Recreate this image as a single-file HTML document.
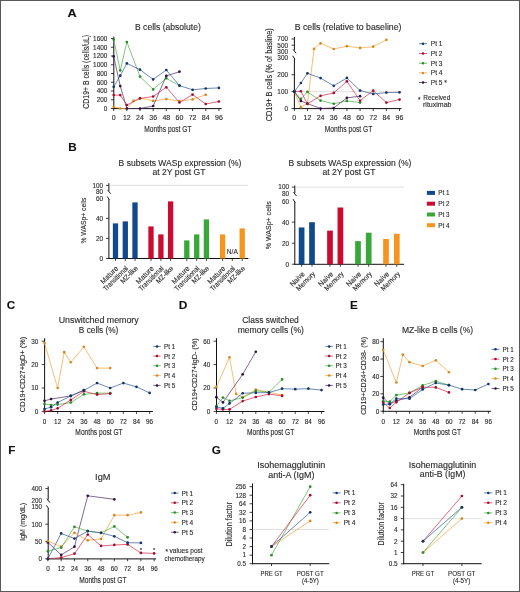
<!DOCTYPE html>
<html><head><meta charset="utf-8"><style>
html,body{margin:0;padding:0;background:#fff;width:520px;height:592px;overflow:hidden}
svg{display:block;will-change:transform}
text{font-family:"Liberation Sans",sans-serif;stroke:#2a2a2a;stroke-width:0.12px}
</style></head><body>
<svg width="520" height="592" viewBox="0 0 520 592" font-family="Liberation Sans, sans-serif" fill="#2a2a2a">
<rect x="0" y="0" width="520" height="592" fill="#fff"/>
<text id="LA" x="67.6" y="16.7" font-size="11.7" textLength="9.2" lengthAdjust="spacingAndGlyphs" font-weight="bold" fill="#111">A</text>
<text id="LB" x="68.2" y="150.9" font-size="11.7" font-weight="bold" fill="#111">B</text>
<text id="LC" x="6.7" y="308.8" font-size="11.7" font-weight="bold" fill="#111">C</text>
<text id="LD" x="178.7" y="308.8" font-size="11.7" textLength="8.6" lengthAdjust="spacingAndGlyphs" font-weight="bold" fill="#111">D</text>
<text id="LE" x="349.9" y="308.9" font-size="11.7" font-weight="bold" fill="#111">E</text>
<text id="LF" x="8.3" y="453.8" font-size="11.7" font-weight="bold" fill="#111">F</text>
<text id="LG" x="211.8" y="454.2" font-size="11.7" font-weight="bold" fill="#111">G</text>
<line x1="113.8" y1="36.6" x2="113.8" y2="109.1" stroke="#111" stroke-width="1"/>
<line x1="113.3" y1="108.6" x2="221.7" y2="108.6" stroke="#111" stroke-width="1"/>
<line x1="110.9" y1="108.5" x2="113.8" y2="108.5" stroke="#111" stroke-width="0.8"/>
<text id="A1y0" x="107.3" y="110.8" font-size="6.4" text-anchor="end">0</text>
<line x1="110.9" y1="99.75" x2="113.8" y2="99.75" stroke="#111" stroke-width="0.8"/>
<text id="A1y1" x="107.3" y="102.05" font-size="6.4" text-anchor="end">200</text>
<line x1="110.9" y1="91" x2="113.8" y2="91" stroke="#111" stroke-width="0.8"/>
<text id="A1y2" x="107.3" y="93.3" font-size="6.4" text-anchor="end">400</text>
<line x1="110.9" y1="82.25" x2="113.8" y2="82.25" stroke="#111" stroke-width="0.8"/>
<text id="A1y3" x="107.3" y="84.55" font-size="6.4" text-anchor="end">600</text>
<line x1="110.9" y1="73.5" x2="113.8" y2="73.5" stroke="#111" stroke-width="0.8"/>
<text id="A1y4" x="107.3" y="75.8" font-size="6.4" text-anchor="end">800</text>
<line x1="110.9" y1="64.75" x2="113.8" y2="64.75" stroke="#111" stroke-width="0.8"/>
<text id="A1y5" x="107.3" y="67.05" font-size="6.4" text-anchor="end">1000</text>
<line x1="110.9" y1="56" x2="113.8" y2="56" stroke="#111" stroke-width="0.8"/>
<text id="A1y6" x="107.3" y="58.3" font-size="6.4" text-anchor="end">1200</text>
<line x1="110.9" y1="47.25" x2="113.8" y2="47.25" stroke="#111" stroke-width="0.8"/>
<text id="A1y7" x="107.3" y="49.55" font-size="6.4" text-anchor="end">1400</text>
<line x1="110.9" y1="38.5" x2="113.8" y2="38.5" stroke="#111" stroke-width="0.8"/>
<text id="A1y8" x="107.3" y="40.8" font-size="6.4" text-anchor="end">1600</text>
<line x1="113.7" y1="108.6" x2="113.7" y2="111" stroke="#111" stroke-width="0.8"/>
<text id="A1x0" x="113.7" y="120.4" font-size="7" text-anchor="middle">0</text>
<line x1="126.85" y1="108.6" x2="126.85" y2="111" stroke="#111" stroke-width="0.8"/>
<text id="A1x1" x="126.85" y="120.4" font-size="7" text-anchor="middle">12</text>
<line x1="140" y1="108.6" x2="140" y2="111" stroke="#111" stroke-width="0.8"/>
<text id="A1x2" x="140" y="120.4" font-size="7" text-anchor="middle">24</text>
<line x1="153.15" y1="108.6" x2="153.15" y2="111" stroke="#111" stroke-width="0.8"/>
<text id="A1x3" x="153.15" y="120.4" font-size="7" text-anchor="middle">36</text>
<line x1="166.3" y1="108.6" x2="166.3" y2="111" stroke="#111" stroke-width="0.8"/>
<text id="A1x4" x="166.3" y="120.4" font-size="7" text-anchor="middle">48</text>
<line x1="179.45" y1="108.6" x2="179.45" y2="111" stroke="#111" stroke-width="0.8"/>
<text id="A1x5" x="179.45" y="120.4" font-size="7" text-anchor="middle">60</text>
<line x1="192.6" y1="108.6" x2="192.6" y2="111" stroke="#111" stroke-width="0.8"/>
<text id="A1x6" x="192.6" y="120.4" font-size="7" text-anchor="middle">72</text>
<line x1="205.75" y1="108.6" x2="205.75" y2="111" stroke="#111" stroke-width="0.8"/>
<text id="A1x7" x="205.75" y="120.4" font-size="7" text-anchor="middle">84</text>
<line x1="218.9" y1="108.6" x2="218.9" y2="111" stroke="#111" stroke-width="0.8"/>
<text id="A1x8" x="218.9" y="120.4" font-size="7" text-anchor="middle">96</text>
<text id="A1m" x="167.9" y="132.4" font-size="8.6" text-anchor="middle" textLength="47.3" lengthAdjust="spacingAndGlyphs">Months post GT</text>
<text id="A1t" x="135" y="30.3" font-size="8.4" textLength="65.8" lengthAdjust="spacingAndGlyphs">B cells (absolute)</text>
<text id="A1l" x="88.9" y="71.8" font-size="8.2" text-anchor="middle" textLength="73.7" lengthAdjust="spacingAndGlyphs" transform="rotate(-90 88.9 71.8)">CD19+ B cells (cells/uL)</text>
<polyline points="113.7,106.75 120.27,108.5 126.85,108.5 133.42,100.89 140,98 153.15,100.89 166.3,99.05 179.45,101.02 192.6,99.4 205.75,94.81" fill="none" stroke="#f5a23a" stroke-width="0.7" stroke-linejoin="round"/>
<circle cx="113.7" cy="106.75" r="1.35" fill="#d58b1f"/>
<circle cx="120.27" cy="108.5" r="1.35" fill="#d58b1f"/>
<circle cx="126.85" cy="108.5" r="1.35" fill="#d58b1f"/>
<circle cx="133.42" cy="100.89" r="1.35" fill="#d58b1f"/>
<circle cx="140" cy="98" r="1.35" fill="#d58b1f"/>
<circle cx="153.15" cy="100.89" r="1.35" fill="#d58b1f"/>
<circle cx="166.3" cy="99.05" r="1.35" fill="#d58b1f"/>
<circle cx="179.45" cy="101.02" r="1.35" fill="#d58b1f"/>
<circle cx="192.6" cy="99.4" r="1.35" fill="#d58b1f"/>
<circle cx="205.75" cy="94.81" r="1.35" fill="#d58b1f"/>
<polyline points="113.7,39.59 120.27,70.44 126.85,42 140,76.56 153.15,89.38 166.3,78.31 179.45,85.62" fill="none" stroke="#47ae42" stroke-width="0.7" stroke-linejoin="round"/>
<circle cx="113.7" cy="39.59" r="1.35" fill="#2e8a2c"/>
<circle cx="120.27" cy="70.44" r="1.35" fill="#2e8a2c"/>
<circle cx="126.85" cy="42" r="1.35" fill="#2e8a2c"/>
<circle cx="140" cy="76.56" r="1.35" fill="#2e8a2c"/>
<circle cx="153.15" cy="89.38" r="1.35" fill="#2e8a2c"/>
<circle cx="166.3" cy="78.31" r="1.35" fill="#2e8a2c"/>
<circle cx="179.45" cy="85.62" r="1.35" fill="#2e8a2c"/>
<polyline points="113.7,56.44 120.27,86.1 126.85,108.5 140,108.5 153.15,106.01 166.3,75.91 179.45,71.71" fill="none" stroke="#4a2a64" stroke-width="0.7" stroke-linejoin="round"/>
<circle cx="113.7" cy="56.44" r="1.35" fill="#2c1240"/>
<circle cx="120.27" cy="86.1" r="1.35" fill="#2c1240"/>
<circle cx="126.85" cy="108.5" r="1.35" fill="#2c1240"/>
<circle cx="140" cy="108.5" r="1.35" fill="#2c1240"/>
<circle cx="153.15" cy="106.01" r="1.35" fill="#2c1240"/>
<circle cx="166.3" cy="75.91" r="1.35" fill="#2c1240"/>
<circle cx="179.45" cy="71.71" r="1.35" fill="#2c1240"/>
<polyline points="113.7,95.11 120.27,95.11 126.85,105.09 140,98.44 153.15,96.51 166.3,87.28 179.45,102.51 192.6,94.59 205.75,103.99 218.9,101.5" fill="none" stroke="#d22645" stroke-width="0.7" stroke-linejoin="round"/>
<circle cx="113.7" cy="95.11" r="1.35" fill="#a0102e"/>
<circle cx="120.27" cy="95.11" r="1.35" fill="#a0102e"/>
<circle cx="126.85" cy="105.09" r="1.35" fill="#a0102e"/>
<circle cx="140" cy="98.44" r="1.35" fill="#a0102e"/>
<circle cx="153.15" cy="96.51" r="1.35" fill="#a0102e"/>
<circle cx="166.3" cy="87.28" r="1.35" fill="#a0102e"/>
<circle cx="179.45" cy="102.51" r="1.35" fill="#a0102e"/>
<circle cx="192.6" cy="94.59" r="1.35" fill="#a0102e"/>
<circle cx="205.75" cy="103.99" r="1.35" fill="#a0102e"/>
<circle cx="218.9" cy="101.5" r="1.35" fill="#a0102e"/>
<polyline points="113.7,86.8 120.27,75.69 126.85,63.44 140,69.69 153.15,79.41 166.3,70 179.45,85.62 192.6,89.82 205.75,88.51 218.9,87.89" fill="none" stroke="#2a5796" stroke-width="0.7" stroke-linejoin="round"/>
<circle cx="113.7" cy="86.8" r="1.35" fill="#143363"/>
<circle cx="120.27" cy="75.69" r="1.35" fill="#143363"/>
<circle cx="126.85" cy="63.44" r="1.35" fill="#143363"/>
<circle cx="140" cy="69.69" r="1.35" fill="#143363"/>
<circle cx="153.15" cy="79.41" r="1.35" fill="#143363"/>
<circle cx="166.3" cy="70" r="1.35" fill="#143363"/>
<circle cx="179.45" cy="85.62" r="1.35" fill="#143363"/>
<circle cx="192.6" cy="89.82" r="1.35" fill="#143363"/>
<circle cx="205.75" cy="88.51" r="1.35" fill="#143363"/>
<circle cx="218.9" cy="87.89" r="1.35" fill="#143363"/>
<line x1="294.4" y1="36.9" x2="294.4" y2="50.3" stroke="#111" stroke-width="1"/>
<line x1="294.4" y1="58.7" x2="294.4" y2="109.1" stroke="#111" stroke-width="1"/>
<path d="M293.3,49.7 L295.9,52.9 M292.9,56.1 L294.7,58.9" stroke="#111" stroke-width="0.95" fill="none" stroke-linecap="round"/>
<line x1="293.9" y1="108.6" x2="401.5" y2="108.6" stroke="#111" stroke-width="1"/>
<line x1="294.4" y1="91.6" x2="401.4" y2="91.6" stroke="#dcc8c8" stroke-width="0.6"/>
<line x1="291.5" y1="108.5" x2="294.4" y2="108.5" stroke="#111" stroke-width="0.8"/>
<text id="A2ay0" x="288" y="110.8" font-size="6.4" text-anchor="end">0</text>
<line x1="291.5" y1="91.6" x2="294.4" y2="91.6" stroke="#111" stroke-width="0.8"/>
<text id="A2ay1" x="288" y="93.9" font-size="6.4" text-anchor="end">100</text>
<line x1="291.5" y1="74.7" x2="294.4" y2="74.7" stroke="#111" stroke-width="0.8"/>
<text id="A2ay2" x="288" y="77" font-size="6.4" text-anchor="end">200</text>
<text id="A2ay3" x="288" y="59.8" font-size="6.4" text-anchor="end">300</text>
<line x1="291.5" y1="39" x2="294.4" y2="39" stroke="#111" stroke-width="0.8"/>
<text id="A2by0" x="288" y="41.3" font-size="6.4" text-anchor="end">700</text>
<line x1="291.5" y1="45.2" x2="294.4" y2="45.2" stroke="#111" stroke-width="0.8"/>
<text id="A2by1" x="288" y="47.5" font-size="6.4" text-anchor="end">500</text>
<text x="288" y="53.6" font-size="6.4" text-anchor="end">300</text>
<line x1="294.3" y1="108.6" x2="294.3" y2="111" stroke="#111" stroke-width="0.8"/>
<text id="A2x0" x="294.3" y="120.4" font-size="7" text-anchor="middle">0</text>
<line x1="307.45" y1="108.6" x2="307.45" y2="111" stroke="#111" stroke-width="0.8"/>
<text id="A2x1" x="307.45" y="120.4" font-size="7" text-anchor="middle">12</text>
<line x1="320.6" y1="108.6" x2="320.6" y2="111" stroke="#111" stroke-width="0.8"/>
<text id="A2x2" x="320.6" y="120.4" font-size="7" text-anchor="middle">24</text>
<line x1="333.75" y1="108.6" x2="333.75" y2="111" stroke="#111" stroke-width="0.8"/>
<text id="A2x3" x="333.75" y="120.4" font-size="7" text-anchor="middle">36</text>
<line x1="346.9" y1="108.6" x2="346.9" y2="111" stroke="#111" stroke-width="0.8"/>
<text id="A2x4" x="346.9" y="120.4" font-size="7" text-anchor="middle">48</text>
<line x1="360.05" y1="108.6" x2="360.05" y2="111" stroke="#111" stroke-width="0.8"/>
<text id="A2x5" x="360.05" y="120.4" font-size="7" text-anchor="middle">60</text>
<line x1="373.2" y1="108.6" x2="373.2" y2="111" stroke="#111" stroke-width="0.8"/>
<text id="A2x6" x="373.2" y="120.4" font-size="7" text-anchor="middle">72</text>
<line x1="386.35" y1="108.6" x2="386.35" y2="111" stroke="#111" stroke-width="0.8"/>
<text id="A2x7" x="386.35" y="120.4" font-size="7" text-anchor="middle">84</text>
<line x1="399.5" y1="108.6" x2="399.5" y2="111" stroke="#111" stroke-width="0.8"/>
<text id="A2x8" x="399.5" y="120.4" font-size="7" text-anchor="middle">96</text>
<text id="A2m" x="348.5" y="132.4" font-size="8.6" text-anchor="middle" textLength="47.5" lengthAdjust="spacingAndGlyphs">Months post GT</text>
<text id="A2t" x="294.7" y="30.3" font-size="8.4" textLength="106.8" lengthAdjust="spacingAndGlyphs">B cells (relative to baseline)</text>
<text id="A2l" x="272.4" y="74.8" font-size="8.2" text-anchor="middle" textLength="93" lengthAdjust="spacingAndGlyphs" transform="rotate(-90 272.4 74.8)">CD19+ B cells (% of basline)</text>
<polyline points="294.3,91.6 300.87,107.15 307.45,103.43 314.02,48.91 320.6,43.3 333.75,49.01 346.9,46.18 360.05,47.89 373.2,46.71 386.35,39.8" fill="none" stroke="#f5a23a" stroke-width="0.7" stroke-linejoin="round"/>
<circle cx="294.3" cy="91.6" r="1.35" fill="#d58b1f"/>
<circle cx="300.87" cy="107.15" r="1.35" fill="#d58b1f"/>
<circle cx="314.02" cy="48.91" r="1.35" fill="#d58b1f"/>
<circle cx="320.6" cy="43.3" r="1.35" fill="#d58b1f"/>
<circle cx="333.75" cy="49.01" r="1.35" fill="#d58b1f"/>
<circle cx="346.9" cy="46.18" r="1.35" fill="#d58b1f"/>
<circle cx="360.05" cy="47.89" r="1.35" fill="#d58b1f"/>
<circle cx="373.2" cy="46.71" r="1.35" fill="#d58b1f"/>
<circle cx="386.35" cy="39.8" r="1.35" fill="#d58b1f"/>
<polyline points="294.3,91.6 300.87,98.87 307.45,91.94 320.6,100.56 333.75,103.77 346.9,100.89 360.05,102.58" fill="none" stroke="#47ae42" stroke-width="0.7" stroke-linejoin="round"/>
<circle cx="294.3" cy="91.6" r="1.35" fill="#2e8a2c"/>
<circle cx="300.87" cy="98.87" r="1.35" fill="#2e8a2c"/>
<circle cx="307.45" cy="91.94" r="1.35" fill="#2e8a2c"/>
<circle cx="320.6" cy="100.56" r="1.35" fill="#2e8a2c"/>
<circle cx="333.75" cy="103.77" r="1.35" fill="#2e8a2c"/>
<circle cx="346.9" cy="100.89" r="1.35" fill="#2e8a2c"/>
<circle cx="360.05" cy="102.58" r="1.35" fill="#2e8a2c"/>
<polyline points="294.3,91.6 300.87,100.89 307.45,103.6 320.6,108.5 333.75,107.99 346.9,97.85 360.05,96.16" fill="none" stroke="#4a2a64" stroke-width="0.7" stroke-linejoin="round"/>
<circle cx="294.3" cy="91.6" r="1.35" fill="#2c1240"/>
<circle cx="300.87" cy="100.89" r="1.35" fill="#2c1240"/>
<circle cx="307.45" cy="103.6" r="1.35" fill="#2c1240"/>
<circle cx="320.6" cy="108.5" r="1.35" fill="#2c1240"/>
<circle cx="333.75" cy="107.99" r="1.35" fill="#2c1240"/>
<circle cx="346.9" cy="97.85" r="1.35" fill="#2c1240"/>
<circle cx="360.05" cy="96.16" r="1.35" fill="#2c1240"/>
<polyline points="294.3,91.6 300.87,91.26 307.45,103.94 320.6,95.83 333.75,92.95 346.9,81.29 360.05,100.73 373.2,90.59 386.35,102.58 399.5,99.54" fill="none" stroke="#d22645" stroke-width="0.7" stroke-linejoin="round"/>
<circle cx="294.3" cy="91.6" r="1.35" fill="#a0102e"/>
<circle cx="300.87" cy="91.26" r="1.35" fill="#a0102e"/>
<circle cx="307.45" cy="103.94" r="1.35" fill="#a0102e"/>
<circle cx="320.6" cy="95.83" r="1.35" fill="#a0102e"/>
<circle cx="333.75" cy="92.95" r="1.35" fill="#a0102e"/>
<circle cx="346.9" cy="81.29" r="1.35" fill="#a0102e"/>
<circle cx="360.05" cy="100.73" r="1.35" fill="#a0102e"/>
<circle cx="373.2" cy="90.59" r="1.35" fill="#a0102e"/>
<circle cx="386.35" cy="102.58" r="1.35" fill="#a0102e"/>
<circle cx="399.5" cy="99.54" r="1.35" fill="#a0102e"/>
<polyline points="294.3,91.6 300.87,82.98 307.45,73.35 320.6,78.08 333.75,85.85 346.9,77.91 360.05,90.59 373.2,93.97 386.35,92.61 399.5,92.28" fill="none" stroke="#2a5796" stroke-width="0.7" stroke-linejoin="round"/>
<circle cx="294.3" cy="91.6" r="1.35" fill="#143363"/>
<circle cx="300.87" cy="82.98" r="1.35" fill="#143363"/>
<circle cx="307.45" cy="73.35" r="1.35" fill="#143363"/>
<circle cx="320.6" cy="78.08" r="1.35" fill="#143363"/>
<circle cx="333.75" cy="85.85" r="1.35" fill="#143363"/>
<circle cx="346.9" cy="77.91" r="1.35" fill="#143363"/>
<circle cx="360.05" cy="90.59" r="1.35" fill="#143363"/>
<circle cx="373.2" cy="93.97" r="1.35" fill="#143363"/>
<circle cx="386.35" cy="92.61" r="1.35" fill="#143363"/>
<circle cx="399.5" cy="92.28" r="1.35" fill="#143363"/>
<line x1="419" y1="43.7" x2="427" y2="43.7" stroke="#2a5796" stroke-width="0.75"/>
<circle cx="423" cy="43.7" r="1.25" fill="#143363"/>
<text id="Ag0" x="430.8" y="46.2" font-size="6.6">Pt 1</text>
<line x1="419" y1="53.5" x2="427" y2="53.5" stroke="#d22645" stroke-width="0.75"/>
<circle cx="423" cy="53.5" r="1.25" fill="#a0102e"/>
<text id="Ag1" x="430.8" y="56" font-size="6.6">Pt 2</text>
<line x1="419" y1="63.2" x2="427" y2="63.2" stroke="#47ae42" stroke-width="0.75"/>
<circle cx="423" cy="63.2" r="1.25" fill="#2e8a2c"/>
<text id="Ag2" x="430.8" y="65.7" font-size="6.6">Pt 3</text>
<line x1="419" y1="72.9" x2="427" y2="72.9" stroke="#f5a23a" stroke-width="0.75"/>
<circle cx="423" cy="72.9" r="1.25" fill="#d58b1f"/>
<text id="Ag3" x="430.8" y="75.4" font-size="6.6">Pt 4</text>
<line x1="419" y1="82.5" x2="427" y2="82.5" stroke="#4a2a64" stroke-width="0.75"/>
<circle cx="423" cy="82.5" r="1.25" fill="#2c1240"/>
<text id="Ag4" x="430.8" y="85" font-size="6.6">Pt 5 *</text>
<text x="418" y="101.6" font-size="6.4">*</text>
<text id="Arec" x="423.3" y="99.9" font-size="6.8" textLength="27" lengthAdjust="spacingAndGlyphs">Received</text>
<text id="Arit" x="423" y="107" font-size="6.8" textLength="28.5" lengthAdjust="spacingAndGlyphs">rituximab</text>
<line x1="108.9" y1="183.2" x2="108.9" y2="190.8" stroke="#111" stroke-width="1"/>
<line x1="108.9" y1="199.4" x2="108.9" y2="259" stroke="#111" stroke-width="1"/>
<path d="M107.8,190.2 L110.4,193.4 M107.4,196.8 L109.2,199.6" stroke="#111" stroke-width="0.95" fill="none" stroke-linecap="round"/>
<line x1="108.4" y1="258.5" x2="248.4" y2="258.5" stroke="#111" stroke-width="1"/>
<line x1="108.9" y1="185.4" x2="248.2" y2="185.4" stroke="#c8c8c8" stroke-width="0.6"/>
<line x1="106" y1="258.4" x2="108.9" y2="258.4" stroke="#111" stroke-width="0.8"/>
<text id="B1ay0" x="103.1" y="260.7" font-size="6.4" text-anchor="end">0</text>
<line x1="106" y1="238.4" x2="108.9" y2="238.4" stroke="#111" stroke-width="0.8"/>
<text id="B1ay1" x="103.1" y="240.7" font-size="6.4" text-anchor="end">20</text>
<line x1="106" y1="218.4" x2="108.9" y2="218.4" stroke="#111" stroke-width="0.8"/>
<text id="B1ay2" x="103.1" y="220.7" font-size="6.4" text-anchor="end">40</text>
<text id="B1ay3" x="103.1" y="200.7" font-size="6.4" text-anchor="end">60</text>
<text id="B1by0" x="103.1" y="194" font-size="6.4" text-anchor="end">80</text>
<line x1="106" y1="185.4" x2="108.9" y2="185.4" stroke="#111" stroke-width="0.8"/>
<text id="B1by1" x="103.1" y="187.7" font-size="6.4" text-anchor="end">100</text>
<text id="B1l" x="85.8" y="220.5" font-size="7.6" text-anchor="middle" textLength="46" lengthAdjust="spacingAndGlyphs" transform="rotate(-90 85.8 220.5)">% WASp+ cells</text>
<text id="B1t1" x="180" y="165.6" font-size="8.4" text-anchor="middle" textLength="122.8" lengthAdjust="spacingAndGlyphs">B subsets WASp expression (%)</text>
<text id="B1t2" x="179" y="174.9" font-size="8.4" text-anchor="middle" textLength="53" lengthAdjust="spacingAndGlyphs">at 2Y post GT</text>
<line x1="115.5" y1="258.5" x2="115.5" y2="260.9" stroke="#111" stroke-width="0.8"/>
<rect x="112.85" y="223.4" width="5.3" height="35.1" fill="#11498a"/>
<line x1="125.3" y1="258.5" x2="125.3" y2="260.9" stroke="#111" stroke-width="0.8"/>
<rect x="122.65" y="221.4" width="5.3" height="37.1" fill="#11498a"/>
<line x1="135" y1="258.5" x2="135" y2="260.9" stroke="#111" stroke-width="0.8"/>
<rect x="132.35" y="202.4" width="5.3" height="56.1" fill="#11498a"/>
<line x1="151" y1="258.5" x2="151" y2="260.9" stroke="#111" stroke-width="0.8"/>
<rect x="148.35" y="226.4" width="5.3" height="32.1" fill="#cc0b30"/>
<line x1="160.9" y1="258.5" x2="160.9" y2="260.9" stroke="#111" stroke-width="0.8"/>
<rect x="158.25" y="234.4" width="5.3" height="24.1" fill="#cc0b30"/>
<line x1="170.6" y1="258.5" x2="170.6" y2="260.9" stroke="#111" stroke-width="0.8"/>
<rect x="167.95" y="201.4" width="5.3" height="57.1" fill="#cc0b30"/>
<line x1="186.8" y1="258.5" x2="186.8" y2="260.9" stroke="#111" stroke-width="0.8"/>
<rect x="184.15" y="240.4" width="5.3" height="18.1" fill="#38a838"/>
<line x1="196.7" y1="258.5" x2="196.7" y2="260.9" stroke="#111" stroke-width="0.8"/>
<rect x="194.05" y="234.4" width="5.3" height="24.1" fill="#38a838"/>
<line x1="206.4" y1="258.5" x2="206.4" y2="260.9" stroke="#111" stroke-width="0.8"/>
<rect x="203.75" y="219.4" width="5.3" height="39.1" fill="#38a838"/>
<line x1="222.6" y1="258.5" x2="222.6" y2="260.9" stroke="#111" stroke-width="0.8"/>
<rect x="219.95" y="234.4" width="5.3" height="24.1" fill="#f7941d"/>
<line x1="232.3" y1="258.5" x2="232.3" y2="260.9" stroke="#111" stroke-width="0.8"/>
<line x1="242.2" y1="258.5" x2="242.2" y2="260.9" stroke="#111" stroke-width="0.8"/>
<rect x="239.55" y="228.4" width="5.3" height="30.1" fill="#f7941d"/>
<text id="NA" x="232.3" y="253.7" font-size="6.6" text-anchor="middle">N/A</text>
<text id="bl0" x="118.8" y="268.9" font-size="7.2" text-anchor="end" textLength="22" lengthAdjust="spacingAndGlyphs" transform="rotate(-45 118.8 268.9)">Mature</text>
<text id="bl1" x="128.6" y="268.9" font-size="7.2" text-anchor="end" textLength="32" lengthAdjust="spacingAndGlyphs" transform="rotate(-45 128.6 268.9)">Transitional</text>
<text id="bl2" x="138.3" y="268.9" font-size="7.2" text-anchor="end" textLength="21.4" lengthAdjust="spacingAndGlyphs" transform="rotate(-45 138.3 268.9)">MZ-like</text>
<text id="bl3" x="154.3" y="268.9" font-size="7.2" text-anchor="end" textLength="22" lengthAdjust="spacingAndGlyphs" transform="rotate(-45 154.3 268.9)">Mature</text>
<text id="bl4" x="164.2" y="268.9" font-size="7.2" text-anchor="end" textLength="32" lengthAdjust="spacingAndGlyphs" transform="rotate(-45 164.2 268.9)">Transitional</text>
<text id="bl5" x="173.9" y="268.9" font-size="7.2" text-anchor="end" textLength="21.4" lengthAdjust="spacingAndGlyphs" transform="rotate(-45 173.9 268.9)">MZ-like</text>
<text id="bl6" x="190.1" y="268.9" font-size="7.2" text-anchor="end" textLength="22" lengthAdjust="spacingAndGlyphs" transform="rotate(-45 190.1 268.9)">Mature</text>
<text id="bl7" x="200" y="268.9" font-size="7.2" text-anchor="end" textLength="32" lengthAdjust="spacingAndGlyphs" transform="rotate(-45 200 268.9)">Transitional</text>
<text id="bl8" x="209.7" y="268.9" font-size="7.2" text-anchor="end" textLength="21.4" lengthAdjust="spacingAndGlyphs" transform="rotate(-45 209.7 268.9)">MZ-like</text>
<text id="bl9" x="225.9" y="268.9" font-size="7.2" text-anchor="end" textLength="22" lengthAdjust="spacingAndGlyphs" transform="rotate(-45 225.9 268.9)">Mature</text>
<text id="bl10" x="235.6" y="268.9" font-size="7.2" text-anchor="end" textLength="32" lengthAdjust="spacingAndGlyphs" transform="rotate(-45 235.6 268.9)">Transitional</text>
<text id="bl11" x="245.5" y="268.9" font-size="7.2" text-anchor="end" textLength="21.4" lengthAdjust="spacingAndGlyphs" transform="rotate(-45 245.5 268.9)">MZ-like</text>
<line x1="294.8" y1="185.5" x2="294.8" y2="193.2" stroke="#111" stroke-width="1"/>
<line x1="294.8" y1="202.1" x2="294.8" y2="264.8" stroke="#111" stroke-width="1"/>
<path d="M293.7,192.6 L296.3,195.8 M293.3,199.5 L295.1,202.3" stroke="#111" stroke-width="0.95" fill="none" stroke-linecap="round"/>
<line x1="294.3" y1="264.3" x2="404.1" y2="264.3" stroke="#111" stroke-width="1"/>
<line x1="294.8" y1="187.1" x2="404.3" y2="187.1" stroke="#c8c8c8" stroke-width="0.6"/>
<line x1="291.9" y1="264.2" x2="294.8" y2="264.2" stroke="#111" stroke-width="0.8"/>
<text id="B2ay0" x="289" y="266.5" font-size="6.4" text-anchor="end">0</text>
<line x1="291.9" y1="243.2" x2="294.8" y2="243.2" stroke="#111" stroke-width="0.8"/>
<text id="B2ay1" x="289" y="245.5" font-size="6.4" text-anchor="end">20</text>
<line x1="291.9" y1="222.2" x2="294.8" y2="222.2" stroke="#111" stroke-width="0.8"/>
<text id="B2ay2" x="289" y="224.5" font-size="6.4" text-anchor="end">40</text>
<text id="B2ay3" x="289" y="203.5" font-size="6.4" text-anchor="end">60</text>
<text id="B2by0" x="289" y="196.3" font-size="6.4" text-anchor="end">80</text>
<line x1="291.9" y1="187.1" x2="294.8" y2="187.1" stroke="#111" stroke-width="0.8"/>
<text id="B2by1" x="289" y="189.4" font-size="6.4" text-anchor="end">100</text>
<text id="B2l" x="270.9" y="225.3" font-size="7.6" text-anchor="middle" textLength="48" lengthAdjust="spacingAndGlyphs" transform="rotate(-90 270.9 225.3)">% WASp+ cells</text>
<text id="B2t1" x="350" y="166.2" font-size="8.4" text-anchor="middle" textLength="122.8" lengthAdjust="spacingAndGlyphs">B subsets WASp expression (%)</text>
<text id="B2t2" x="349" y="175" font-size="8.4" text-anchor="middle" textLength="53" lengthAdjust="spacingAndGlyphs">at 2Y post GT</text>
<line x1="301.6" y1="264.3" x2="301.6" y2="266.7" stroke="#111" stroke-width="0.8"/>
<rect x="298.75" y="227.45" width="5.7" height="36.85" fill="#11498a"/>
<line x1="312" y1="264.3" x2="312" y2="266.7" stroke="#111" stroke-width="0.8"/>
<rect x="309.15" y="222.2" width="5.7" height="42.1" fill="#11498a"/>
<line x1="330" y1="264.3" x2="330" y2="266.7" stroke="#111" stroke-width="0.8"/>
<rect x="327.15" y="230.6" width="5.7" height="33.7" fill="#cc0b30"/>
<line x1="340.4" y1="264.3" x2="340.4" y2="266.7" stroke="#111" stroke-width="0.8"/>
<rect x="337.55" y="207.5" width="5.7" height="56.8" fill="#cc0b30"/>
<line x1="358" y1="264.3" x2="358" y2="266.7" stroke="#111" stroke-width="0.8"/>
<rect x="355.15" y="241.1" width="5.7" height="23.2" fill="#38a838"/>
<line x1="368.7" y1="264.3" x2="368.7" y2="266.7" stroke="#111" stroke-width="0.8"/>
<rect x="365.85" y="232.7" width="5.7" height="31.6" fill="#38a838"/>
<line x1="386" y1="264.3" x2="386" y2="266.7" stroke="#111" stroke-width="0.8"/>
<rect x="383.15" y="239" width="5.7" height="25.3" fill="#f7941d"/>
<line x1="396.8" y1="264.3" x2="396.8" y2="266.7" stroke="#111" stroke-width="0.8"/>
<rect x="393.95" y="233.75" width="5.7" height="30.55" fill="#f7941d"/>
<text id="bm0" x="305.3" y="274.4" font-size="7.2" text-anchor="end" textLength="17.8" lengthAdjust="spacingAndGlyphs" transform="rotate(-45 305.3 274.4)">Naive</text>
<text id="bm1" x="315.7" y="274.4" font-size="7.2" text-anchor="end" textLength="24" lengthAdjust="spacingAndGlyphs" transform="rotate(-45 315.7 274.4)">Memory</text>
<text id="bm2" x="333.7" y="274.4" font-size="7.2" text-anchor="end" textLength="17.8" lengthAdjust="spacingAndGlyphs" transform="rotate(-45 333.7 274.4)">Naive</text>
<text id="bm3" x="344.1" y="274.4" font-size="7.2" text-anchor="end" textLength="24" lengthAdjust="spacingAndGlyphs" transform="rotate(-45 344.1 274.4)">Memory</text>
<text id="bm4" x="361.7" y="274.4" font-size="7.2" text-anchor="end" textLength="17.8" lengthAdjust="spacingAndGlyphs" transform="rotate(-45 361.7 274.4)">Naive</text>
<text id="bm5" x="372.4" y="274.4" font-size="7.2" text-anchor="end" textLength="24" lengthAdjust="spacingAndGlyphs" transform="rotate(-45 372.4 274.4)">Memory</text>
<text id="bm6" x="389.7" y="274.4" font-size="7.2" text-anchor="end" textLength="17.8" lengthAdjust="spacingAndGlyphs" transform="rotate(-45 389.7 274.4)">Naive</text>
<text id="bm7" x="400.5" y="274.4" font-size="7.2" text-anchor="end" textLength="24" lengthAdjust="spacingAndGlyphs" transform="rotate(-45 400.5 274.4)">Memory</text>
<rect x="426.9" y="190.9" width="8.1" height="4" fill="#11498a"/>
<text id="Bg0" x="438.2" y="195.2" font-size="6.3">Pt 1</text>
<rect x="426.9" y="201.7" width="8.1" height="4" fill="#cc0b30"/>
<text id="Bg1" x="438.2" y="206" font-size="6.3">Pt 2</text>
<rect x="426.9" y="212.5" width="8.1" height="4" fill="#38a838"/>
<text id="Bg2" x="438.2" y="216.8" font-size="6.3">Pt 3</text>
<rect x="426.9" y="223.2" width="8.1" height="4" fill="#f7941d"/>
<text id="Bg3" x="438.2" y="227.5" font-size="6.3">Pt 4</text>
<line x1="44.6" y1="338.2" x2="44.6" y2="412" stroke="#111" stroke-width="1"/>
<line x1="44.1" y1="411.5" x2="152.9" y2="411.5" stroke="#111" stroke-width="1"/>
<line x1="41.7" y1="411.4" x2="44.6" y2="411.4" stroke="#111" stroke-width="0.8"/>
<text id="Cy0" x="38.4" y="413.7" font-size="6.4" text-anchor="end">0</text>
<line x1="41.7" y1="388" x2="44.6" y2="388" stroke="#111" stroke-width="0.8"/>
<text id="Cy1" x="38.4" y="390.3" font-size="6.4" text-anchor="end">10</text>
<line x1="41.7" y1="364.6" x2="44.6" y2="364.6" stroke="#111" stroke-width="0.8"/>
<text id="Cy2" x="38.4" y="366.9" font-size="6.4" text-anchor="end">20</text>
<line x1="41.7" y1="341.2" x2="44.6" y2="341.2" stroke="#111" stroke-width="0.8"/>
<text id="Cy3" x="38.4" y="343.5" font-size="6.4" text-anchor="end">30</text>
<line x1="44.5" y1="411.5" x2="44.5" y2="413.9" stroke="#111" stroke-width="0.8"/>
<text id="Cx0" x="44.5" y="424" font-size="6.4" text-anchor="middle">0</text>
<line x1="57.64" y1="411.5" x2="57.64" y2="413.9" stroke="#111" stroke-width="0.8"/>
<text id="Cx1" x="57.64" y="424" font-size="6.4" text-anchor="middle">12</text>
<line x1="70.78" y1="411.5" x2="70.78" y2="413.9" stroke="#111" stroke-width="0.8"/>
<text id="Cx2" x="70.78" y="424" font-size="6.4" text-anchor="middle">24</text>
<line x1="83.92" y1="411.5" x2="83.92" y2="413.9" stroke="#111" stroke-width="0.8"/>
<text id="Cx3" x="83.92" y="424" font-size="6.4" text-anchor="middle">36</text>
<line x1="97.06" y1="411.5" x2="97.06" y2="413.9" stroke="#111" stroke-width="0.8"/>
<text id="Cx4" x="97.06" y="424" font-size="6.4" text-anchor="middle">48</text>
<line x1="110.2" y1="411.5" x2="110.2" y2="413.9" stroke="#111" stroke-width="0.8"/>
<text id="Cx5" x="110.2" y="424" font-size="6.4" text-anchor="middle">60</text>
<line x1="123.34" y1="411.5" x2="123.34" y2="413.9" stroke="#111" stroke-width="0.8"/>
<text id="Cx6" x="123.34" y="424" font-size="6.4" text-anchor="middle">72</text>
<line x1="136.48" y1="411.5" x2="136.48" y2="413.9" stroke="#111" stroke-width="0.8"/>
<text id="Cx7" x="136.48" y="424" font-size="6.4" text-anchor="middle">84</text>
<line x1="149.62" y1="411.5" x2="149.62" y2="413.9" stroke="#111" stroke-width="0.8"/>
<text id="Cx8" x="149.62" y="424" font-size="6.4" text-anchor="middle">96</text>
<text id="Cm" x="99" y="435.2" font-size="8.4" text-anchor="middle" textLength="47.3" lengthAdjust="spacingAndGlyphs">Months post GT</text>
<text id="Ct1" x="98.7" y="323.2" font-size="8.4" text-anchor="middle" textLength="80" lengthAdjust="spacingAndGlyphs">Unswitched memory</text>
<text id="Ct2" x="98.6" y="333.2" font-size="8.4" text-anchor="middle" textLength="39.5" lengthAdjust="spacingAndGlyphs">B cells (%)</text>
<text id="Cl" x="25.4" y="374.5" font-size="7.8" text-anchor="middle" textLength="75.3" lengthAdjust="spacingAndGlyphs" transform="rotate(-90 25.4 374.5)">CD19+CD27+IgD+ (%)</text>
<polyline points="44.5,343.07 57.64,388 64.21,352.2 70.78,362.26 83.92,346.82 97.06,368.11 110.2,368.11" fill="none" stroke="#f5a23a" stroke-width="0.7" stroke-linejoin="round"/>
<circle cx="44.5" cy="343.07" r="1.35" fill="#d58b1f"/>
<circle cx="57.64" cy="388" r="1.35" fill="#d58b1f"/>
<circle cx="64.21" cy="352.2" r="1.35" fill="#d58b1f"/>
<circle cx="70.78" cy="362.26" r="1.35" fill="#d58b1f"/>
<circle cx="83.92" cy="346.82" r="1.35" fill="#d58b1f"/>
<circle cx="97.06" cy="368.11" r="1.35" fill="#d58b1f"/>
<circle cx="110.2" cy="368.11" r="1.35" fill="#d58b1f"/>
<polyline points="44.5,400.87 51.07,399 70.78,395.96 83.92,390.11" fill="none" stroke="#4a2a64" stroke-width="0.7" stroke-linejoin="round"/>
<circle cx="44.5" cy="400.87" r="1.35" fill="#2c1240"/>
<circle cx="51.07" cy="399" r="1.35" fill="#2c1240"/>
<circle cx="70.78" cy="395.96" r="1.35" fill="#2c1240"/>
<circle cx="83.92" cy="390.11" r="1.35" fill="#2c1240"/>
<polyline points="44.5,403.91 51.07,405.08 57.64,404.61 70.78,402.51 83.92,394.32 97.06,393.15 110.2,393.15" fill="none" stroke="#47ae42" stroke-width="0.7" stroke-linejoin="round"/>
<circle cx="44.5" cy="403.91" r="1.35" fill="#2e8a2c"/>
<circle cx="51.07" cy="405.08" r="1.35" fill="#2e8a2c"/>
<circle cx="57.64" cy="404.61" r="1.35" fill="#2e8a2c"/>
<circle cx="70.78" cy="402.51" r="1.35" fill="#2e8a2c"/>
<circle cx="83.92" cy="394.32" r="1.35" fill="#2e8a2c"/>
<circle cx="97.06" cy="393.15" r="1.35" fill="#2e8a2c"/>
<circle cx="110.2" cy="393.15" r="1.35" fill="#2e8a2c"/>
<polyline points="44.5,411.4 51.07,410.46 57.64,408.36 70.78,399.93 83.92,391.28 97.06,394.55 110.2,393.62" fill="none" stroke="#d22645" stroke-width="0.7" stroke-linejoin="round"/>
<circle cx="44.5" cy="411.4" r="1.35" fill="#a0102e"/>
<circle cx="51.07" cy="410.46" r="1.35" fill="#a0102e"/>
<circle cx="57.64" cy="408.36" r="1.35" fill="#a0102e"/>
<circle cx="70.78" cy="399.93" r="1.35" fill="#a0102e"/>
<circle cx="83.92" cy="391.28" r="1.35" fill="#a0102e"/>
<circle cx="97.06" cy="394.55" r="1.35" fill="#a0102e"/>
<circle cx="110.2" cy="393.62" r="1.35" fill="#a0102e"/>
<polyline points="44.5,409.06 51.07,407.19 57.64,402.51 70.78,395.96 83.92,390.34 97.06,383.09 110.2,388 123.34,383.09 136.48,386.83 149.62,392.91" fill="none" stroke="#2a5796" stroke-width="0.7" stroke-linejoin="round"/>
<circle cx="44.5" cy="409.06" r="1.35" fill="#143363"/>
<circle cx="51.07" cy="407.19" r="1.35" fill="#143363"/>
<circle cx="57.64" cy="402.51" r="1.35" fill="#143363"/>
<circle cx="70.78" cy="395.96" r="1.35" fill="#143363"/>
<circle cx="83.92" cy="390.34" r="1.35" fill="#143363"/>
<circle cx="97.06" cy="383.09" r="1.35" fill="#143363"/>
<circle cx="110.2" cy="388" r="1.35" fill="#143363"/>
<circle cx="123.34" cy="383.09" r="1.35" fill="#143363"/>
<circle cx="136.48" cy="386.83" r="1.35" fill="#143363"/>
<circle cx="149.62" cy="392.91" r="1.35" fill="#143363"/>
<line x1="153.3" y1="346.4" x2="160.7" y2="346.4" stroke="#2a5796" stroke-width="0.75"/>
<circle cx="157" cy="346.4" r="1.25" fill="#143363"/>
<text id="Cg0" x="164" y="348.9" font-size="6.3">Pt 1</text>
<line x1="153.3" y1="356.1" x2="160.7" y2="356.1" stroke="#d22645" stroke-width="0.75"/>
<circle cx="157" cy="356.1" r="1.25" fill="#a0102e"/>
<text id="Cg1" x="164" y="358.6" font-size="6.3">Pt 2</text>
<line x1="153.3" y1="365.8" x2="160.7" y2="365.8" stroke="#47ae42" stroke-width="0.75"/>
<circle cx="157" cy="365.8" r="1.25" fill="#2e8a2c"/>
<text id="Cg2" x="164" y="368.3" font-size="6.3">Pt 3</text>
<line x1="153.3" y1="375.6" x2="160.7" y2="375.6" stroke="#f5a23a" stroke-width="0.75"/>
<circle cx="157" cy="375.6" r="1.25" fill="#d58b1f"/>
<text id="Cg3" x="164" y="378.1" font-size="6.3">Pt 4</text>
<line x1="153.3" y1="385.4" x2="160.7" y2="385.4" stroke="#4a2a64" stroke-width="0.75"/>
<circle cx="157" cy="385.4" r="1.25" fill="#2c1240"/>
<text id="Cg4" x="164" y="387.9" font-size="6.3">Pt 5</text>
<line x1="216.5" y1="338.2" x2="216.5" y2="412" stroke="#111" stroke-width="1"/>
<line x1="216" y1="411.5" x2="324.4" y2="411.5" stroke="#111" stroke-width="1"/>
<line x1="213.6" y1="411.4" x2="216.5" y2="411.4" stroke="#111" stroke-width="0.8"/>
<text id="Dy0" x="210.4" y="413.7" font-size="6.4" text-anchor="end">0</text>
<line x1="213.6" y1="388" x2="216.5" y2="388" stroke="#111" stroke-width="0.8"/>
<text id="Dy1" x="210.4" y="390.3" font-size="6.4" text-anchor="end">20</text>
<line x1="213.6" y1="364.6" x2="216.5" y2="364.6" stroke="#111" stroke-width="0.8"/>
<text id="Dy2" x="210.4" y="366.9" font-size="6.4" text-anchor="end">40</text>
<line x1="213.6" y1="341.2" x2="216.5" y2="341.2" stroke="#111" stroke-width="0.8"/>
<text id="Dy3" x="210.4" y="343.5" font-size="6.4" text-anchor="end">60</text>
<line x1="216.4" y1="411.5" x2="216.4" y2="413.9" stroke="#111" stroke-width="0.8"/>
<text id="Dx0" x="216.4" y="424" font-size="6.4" text-anchor="middle">0</text>
<line x1="229.54" y1="411.5" x2="229.54" y2="413.9" stroke="#111" stroke-width="0.8"/>
<text id="Dx1" x="229.54" y="424" font-size="6.4" text-anchor="middle">12</text>
<line x1="242.68" y1="411.5" x2="242.68" y2="413.9" stroke="#111" stroke-width="0.8"/>
<text id="Dx2" x="242.68" y="424" font-size="6.4" text-anchor="middle">24</text>
<line x1="255.82" y1="411.5" x2="255.82" y2="413.9" stroke="#111" stroke-width="0.8"/>
<text id="Dx3" x="255.82" y="424" font-size="6.4" text-anchor="middle">36</text>
<line x1="268.96" y1="411.5" x2="268.96" y2="413.9" stroke="#111" stroke-width="0.8"/>
<text id="Dx4" x="268.96" y="424" font-size="6.4" text-anchor="middle">48</text>
<line x1="282.1" y1="411.5" x2="282.1" y2="413.9" stroke="#111" stroke-width="0.8"/>
<text id="Dx5" x="282.1" y="424" font-size="6.4" text-anchor="middle">60</text>
<line x1="295.24" y1="411.5" x2="295.24" y2="413.9" stroke="#111" stroke-width="0.8"/>
<text id="Dx6" x="295.24" y="424" font-size="6.4" text-anchor="middle">72</text>
<line x1="308.38" y1="411.5" x2="308.38" y2="413.9" stroke="#111" stroke-width="0.8"/>
<text id="Dx7" x="308.38" y="424" font-size="6.4" text-anchor="middle">84</text>
<line x1="321.52" y1="411.5" x2="321.52" y2="413.9" stroke="#111" stroke-width="0.8"/>
<text id="Dx8" x="321.52" y="424" font-size="6.4" text-anchor="middle">96</text>
<text id="Dm" x="270.6" y="435.2" font-size="8.4" text-anchor="middle" textLength="47.3" lengthAdjust="spacingAndGlyphs">Months post GT</text>
<text id="Dt1" x="270.5" y="323.2" font-size="8.4" text-anchor="middle" textLength="56.7" lengthAdjust="spacingAndGlyphs">Class switched</text>
<text id="Dt2" x="270.8" y="333.2" font-size="8.4" text-anchor="middle" textLength="66.3" lengthAdjust="spacingAndGlyphs">memory cells (%)</text>
<text id="Dl" x="196.9" y="374.5" font-size="7.8" text-anchor="middle" textLength="72.2" lengthAdjust="spacingAndGlyphs" transform="rotate(-90 196.9 374.5)">CD19+CD27+IgD- (%)</text>
<polyline points="216.4,386.95 229.54,357.35 236.11,393.85 242.68,397.36 255.82,389.52 268.96,392.33 282.1,395.02" fill="none" stroke="#f5a23a" stroke-width="0.7" stroke-linejoin="round"/>
<circle cx="216.4" cy="386.95" r="1.35" fill="#d58b1f"/>
<circle cx="229.54" cy="357.35" r="1.35" fill="#d58b1f"/>
<circle cx="236.11" cy="393.85" r="1.35" fill="#d58b1f"/>
<circle cx="242.68" cy="397.36" r="1.35" fill="#d58b1f"/>
<circle cx="255.82" cy="389.52" r="1.35" fill="#d58b1f"/>
<circle cx="268.96" cy="392.33" r="1.35" fill="#d58b1f"/>
<circle cx="282.1" cy="395.02" r="1.35" fill="#d58b1f"/>
<polyline points="216.4,397.13 222.97,402.39 242.68,374.31 255.82,351.73" fill="none" stroke="#4a2a64" stroke-width="0.7" stroke-linejoin="round"/>
<circle cx="216.4" cy="397.13" r="1.35" fill="#2c1240"/>
<circle cx="222.97" cy="402.39" r="1.35" fill="#2c1240"/>
<circle cx="242.68" cy="374.31" r="1.35" fill="#2c1240"/>
<circle cx="255.82" cy="351.73" r="1.35" fill="#2c1240"/>
<polyline points="216.4,406.13 222.97,397.48 229.54,400.87 242.68,397.59 255.82,390.81 268.96,392.21 282.1,379.46" fill="none" stroke="#47ae42" stroke-width="0.7" stroke-linejoin="round"/>
<circle cx="216.4" cy="406.13" r="1.35" fill="#2e8a2c"/>
<circle cx="222.97" cy="397.48" r="1.35" fill="#2e8a2c"/>
<circle cx="229.54" cy="400.87" r="1.35" fill="#2e8a2c"/>
<circle cx="242.68" cy="397.59" r="1.35" fill="#2e8a2c"/>
<circle cx="255.82" cy="390.81" r="1.35" fill="#2e8a2c"/>
<circle cx="268.96" cy="392.21" r="1.35" fill="#2e8a2c"/>
<circle cx="282.1" cy="379.46" r="1.35" fill="#2e8a2c"/>
<polyline points="216.4,408.83 222.97,409.41 229.54,409.41 242.68,401.1 255.82,397.01 268.96,394.08 282.1,395.96" fill="none" stroke="#d22645" stroke-width="0.7" stroke-linejoin="round"/>
<circle cx="216.4" cy="408.83" r="1.35" fill="#a0102e"/>
<circle cx="222.97" cy="409.41" r="1.35" fill="#a0102e"/>
<circle cx="229.54" cy="409.41" r="1.35" fill="#a0102e"/>
<circle cx="242.68" cy="401.1" r="1.35" fill="#a0102e"/>
<circle cx="255.82" cy="397.01" r="1.35" fill="#a0102e"/>
<circle cx="268.96" cy="394.08" r="1.35" fill="#a0102e"/>
<circle cx="282.1" cy="395.96" r="1.35" fill="#a0102e"/>
<polyline points="216.4,406.84 222.97,408.36 229.54,403.44 242.68,393.26 255.82,392.8 268.96,392.56 282.1,388.7 295.24,389.17 308.38,388.7 321.52,390.11" fill="none" stroke="#2a5796" stroke-width="0.7" stroke-linejoin="round"/>
<circle cx="216.4" cy="406.84" r="1.35" fill="#143363"/>
<circle cx="222.97" cy="408.36" r="1.35" fill="#143363"/>
<circle cx="229.54" cy="403.44" r="1.35" fill="#143363"/>
<circle cx="242.68" cy="393.26" r="1.35" fill="#143363"/>
<circle cx="255.82" cy="392.8" r="1.35" fill="#143363"/>
<circle cx="268.96" cy="392.56" r="1.35" fill="#143363"/>
<circle cx="282.1" cy="388.7" r="1.35" fill="#143363"/>
<circle cx="295.24" cy="389.17" r="1.35" fill="#143363"/>
<circle cx="308.38" cy="388.7" r="1.35" fill="#143363"/>
<circle cx="321.52" cy="390.11" r="1.35" fill="#143363"/>
<line x1="325.4" y1="346.4" x2="332.8" y2="346.4" stroke="#2a5796" stroke-width="0.75"/>
<circle cx="329.1" cy="346.4" r="1.25" fill="#143363"/>
<text id="Dg0" x="335.6" y="348.9" font-size="6.3">Pt 1</text>
<line x1="325.4" y1="356.1" x2="332.8" y2="356.1" stroke="#d22645" stroke-width="0.75"/>
<circle cx="329.1" cy="356.1" r="1.25" fill="#a0102e"/>
<text id="Dg1" x="335.6" y="358.6" font-size="6.3">Pt 2</text>
<line x1="325.4" y1="365.8" x2="332.8" y2="365.8" stroke="#47ae42" stroke-width="0.75"/>
<circle cx="329.1" cy="365.8" r="1.25" fill="#2e8a2c"/>
<text id="Dg2" x="335.6" y="368.3" font-size="6.3">Pt 3</text>
<line x1="325.4" y1="375.6" x2="332.8" y2="375.6" stroke="#f5a23a" stroke-width="0.75"/>
<circle cx="329.1" cy="375.6" r="1.25" fill="#d58b1f"/>
<text id="Dg3" x="335.6" y="378.1" font-size="6.3">Pt 4</text>
<line x1="325.4" y1="385.4" x2="332.8" y2="385.4" stroke="#4a2a64" stroke-width="0.75"/>
<circle cx="329.1" cy="385.4" r="1.25" fill="#2c1240"/>
<text id="Dg4" x="335.6" y="387.9" font-size="6.3">Pt 5</text>
<line x1="383.3" y1="338.2" x2="383.3" y2="411.8" stroke="#111" stroke-width="1"/>
<line x1="382.8" y1="411.3" x2="491.1" y2="411.3" stroke="#111" stroke-width="1"/>
<line x1="380.4" y1="411.2" x2="383.3" y2="411.2" stroke="#111" stroke-width="0.8"/>
<text id="Ey0" x="379.4" y="413.5" font-size="6.4" text-anchor="end">0</text>
<line x1="380.4" y1="393.82" x2="383.3" y2="393.82" stroke="#111" stroke-width="0.8"/>
<text id="Ey1" x="379.4" y="396.12" font-size="6.4" text-anchor="end">20</text>
<line x1="380.4" y1="376.44" x2="383.3" y2="376.44" stroke="#111" stroke-width="0.8"/>
<text id="Ey2" x="379.4" y="378.74" font-size="6.4" text-anchor="end">40</text>
<line x1="380.4" y1="359.06" x2="383.3" y2="359.06" stroke="#111" stroke-width="0.8"/>
<text id="Ey3" x="379.4" y="361.36" font-size="6.4" text-anchor="end">60</text>
<line x1="380.4" y1="341.68" x2="383.3" y2="341.68" stroke="#111" stroke-width="0.8"/>
<text id="Ey4" x="379.4" y="343.98" font-size="6.4" text-anchor="end">80</text>
<line x1="383.2" y1="411.3" x2="383.2" y2="413.7" stroke="#111" stroke-width="0.8"/>
<text id="Ex0" x="383.2" y="424" font-size="6.4" text-anchor="middle">0</text>
<line x1="396.35" y1="411.3" x2="396.35" y2="413.7" stroke="#111" stroke-width="0.8"/>
<text id="Ex1" x="396.35" y="424" font-size="6.4" text-anchor="middle">12</text>
<line x1="409.5" y1="411.3" x2="409.5" y2="413.7" stroke="#111" stroke-width="0.8"/>
<text id="Ex2" x="409.5" y="424" font-size="6.4" text-anchor="middle">24</text>
<line x1="422.66" y1="411.3" x2="422.66" y2="413.7" stroke="#111" stroke-width="0.8"/>
<text id="Ex3" x="422.66" y="424" font-size="6.4" text-anchor="middle">36</text>
<line x1="435.81" y1="411.3" x2="435.81" y2="413.7" stroke="#111" stroke-width="0.8"/>
<text id="Ex4" x="435.81" y="424" font-size="6.4" text-anchor="middle">48</text>
<line x1="448.96" y1="411.3" x2="448.96" y2="413.7" stroke="#111" stroke-width="0.8"/>
<text id="Ex5" x="448.96" y="424" font-size="6.4" text-anchor="middle">60</text>
<line x1="462.11" y1="411.3" x2="462.11" y2="413.7" stroke="#111" stroke-width="0.8"/>
<text id="Ex6" x="462.11" y="424" font-size="6.4" text-anchor="middle">72</text>
<line x1="475.26" y1="411.3" x2="475.26" y2="413.7" stroke="#111" stroke-width="0.8"/>
<text id="Ex7" x="475.26" y="424" font-size="6.4" text-anchor="middle">84</text>
<line x1="488.42" y1="411.3" x2="488.42" y2="413.7" stroke="#111" stroke-width="0.8"/>
<text id="Ex8" x="488.42" y="424" font-size="6.4" text-anchor="middle">96</text>
<text id="Em" x="437.3" y="435.2" font-size="8.4" text-anchor="middle" textLength="47.3" lengthAdjust="spacingAndGlyphs">Months post GT</text>
<text id="Et" x="437.5" y="333.3" font-size="8.4" text-anchor="middle" textLength="71.2" lengthAdjust="spacingAndGlyphs">MZ-like B cells (%)</text>
<text id="El" x="366.4" y="375.8" font-size="7.8" text-anchor="middle" textLength="78" lengthAdjust="spacingAndGlyphs" transform="rotate(-90 366.4 375.8)">CD19+CD24+CD38- (%)</text>
<polyline points="383.2,350.02 396.35,382.52 402.93,354.71 409.5,362.19 422.66,366.01 435.81,360.28 448.96,372.27" fill="none" stroke="#f5a23a" stroke-width="0.7" stroke-linejoin="round"/>
<circle cx="383.2" cy="350.02" r="1.35" fill="#d58b1f"/>
<circle cx="396.35" cy="382.52" r="1.35" fill="#d58b1f"/>
<circle cx="402.93" cy="354.71" r="1.35" fill="#d58b1f"/>
<circle cx="409.5" cy="362.19" r="1.35" fill="#d58b1f"/>
<circle cx="422.66" cy="366.01" r="1.35" fill="#d58b1f"/>
<circle cx="435.81" cy="360.28" r="1.35" fill="#d58b1f"/>
<circle cx="448.96" cy="372.27" r="1.35" fill="#d58b1f"/>
<polyline points="383.2,397.64 389.78,404.16 396.35,400.77 409.5,397.3 422.66,387.22" fill="none" stroke="#4a2a64" stroke-width="0.7" stroke-linejoin="round"/>
<circle cx="383.2" cy="397.64" r="1.35" fill="#2c1240"/>
<circle cx="389.78" cy="404.16" r="1.35" fill="#2c1240"/>
<circle cx="396.35" cy="400.77" r="1.35" fill="#2c1240"/>
<circle cx="409.5" cy="397.3" r="1.35" fill="#2c1240"/>
<circle cx="422.66" cy="387.22" r="1.35" fill="#2c1240"/>
<polyline points="383.2,401.21 389.78,401.64 396.35,395.12 409.5,392.95 422.66,385.39 435.81,381.22 448.96,385.13" fill="none" stroke="#47ae42" stroke-width="0.7" stroke-linejoin="round"/>
<circle cx="383.2" cy="401.21" r="1.35" fill="#2e8a2c"/>
<circle cx="389.78" cy="401.64" r="1.35" fill="#2e8a2c"/>
<circle cx="396.35" cy="395.12" r="1.35" fill="#2e8a2c"/>
<circle cx="409.5" cy="392.95" r="1.35" fill="#2e8a2c"/>
<circle cx="422.66" cy="385.39" r="1.35" fill="#2e8a2c"/>
<circle cx="435.81" cy="381.22" r="1.35" fill="#2e8a2c"/>
<circle cx="448.96" cy="385.13" r="1.35" fill="#2e8a2c"/>
<polyline points="383.2,402.51 389.78,407.98 396.35,402.16 409.5,392.95 422.66,387.13 435.81,387.39 448.96,392.43" fill="none" stroke="#d22645" stroke-width="0.7" stroke-linejoin="round"/>
<circle cx="383.2" cy="402.51" r="1.35" fill="#a0102e"/>
<circle cx="389.78" cy="407.98" r="1.35" fill="#a0102e"/>
<circle cx="396.35" cy="402.16" r="1.35" fill="#a0102e"/>
<circle cx="409.5" cy="392.95" r="1.35" fill="#a0102e"/>
<circle cx="422.66" cy="387.13" r="1.35" fill="#a0102e"/>
<circle cx="435.81" cy="387.39" r="1.35" fill="#a0102e"/>
<circle cx="448.96" cy="392.43" r="1.35" fill="#a0102e"/>
<polyline points="383.2,404.6 389.78,403.9 396.35,398.69 409.5,398.69 422.66,389.47 435.81,382.96 448.96,385.13 462.11,389.21 475.26,390 488.42,384" fill="none" stroke="#2a5796" stroke-width="0.7" stroke-linejoin="round"/>
<circle cx="383.2" cy="404.6" r="1.35" fill="#143363"/>
<circle cx="389.78" cy="403.9" r="1.35" fill="#143363"/>
<circle cx="396.35" cy="398.69" r="1.35" fill="#143363"/>
<circle cx="409.5" cy="398.69" r="1.35" fill="#143363"/>
<circle cx="422.66" cy="389.47" r="1.35" fill="#143363"/>
<circle cx="435.81" cy="382.96" r="1.35" fill="#143363"/>
<circle cx="448.96" cy="385.13" r="1.35" fill="#143363"/>
<circle cx="462.11" cy="389.21" r="1.35" fill="#143363"/>
<circle cx="475.26" cy="390" r="1.35" fill="#143363"/>
<circle cx="488.42" cy="384" r="1.35" fill="#143363"/>
<line x1="491.6" y1="349.3" x2="499.4" y2="349.3" stroke="#2a5796" stroke-width="0.75"/>
<circle cx="495.5" cy="349.3" r="1.25" fill="#143363"/>
<text id="Eg0" x="502.5" y="351.8" font-size="6.3">Pt 1</text>
<line x1="491.6" y1="359.1" x2="499.4" y2="359.1" stroke="#d22645" stroke-width="0.75"/>
<circle cx="495.5" cy="359.1" r="1.25" fill="#a0102e"/>
<text id="Eg1" x="502.5" y="361.6" font-size="6.3">Pt 2</text>
<line x1="491.6" y1="368.8" x2="499.4" y2="368.8" stroke="#47ae42" stroke-width="0.75"/>
<circle cx="495.5" cy="368.8" r="1.25" fill="#2e8a2c"/>
<text id="Eg2" x="502.5" y="371.3" font-size="6.3">Pt 3</text>
<line x1="491.6" y1="378.6" x2="499.4" y2="378.6" stroke="#f5a23a" stroke-width="0.75"/>
<circle cx="495.5" cy="378.6" r="1.25" fill="#d58b1f"/>
<text id="Eg3" x="502.5" y="381.1" font-size="6.3">Pt 4</text>
<line x1="491.6" y1="388.5" x2="499.4" y2="388.5" stroke="#4a2a64" stroke-width="0.75"/>
<circle cx="495.5" cy="388.5" r="1.25" fill="#2c1240"/>
<text id="Eg4" x="502.5" y="391" font-size="6.3">Pt 5</text>
<line x1="48.2" y1="486.3" x2="48.2" y2="499.7" stroke="#111" stroke-width="1"/>
<line x1="48.2" y1="508.3" x2="48.2" y2="559.4" stroke="#111" stroke-width="1"/>
<path d="M47.1,499.1 L49.7,502.3 M46.7,505.7 L48.5,508.5" stroke="#111" stroke-width="0.95" fill="none" stroke-linecap="round"/>
<line x1="47.7" y1="558.9" x2="156.1" y2="558.9" stroke="#111" stroke-width="1"/>
<line x1="45.3" y1="558.8" x2="48.2" y2="558.8" stroke="#111" stroke-width="0.8"/>
<text id="Fay0" x="42.1" y="561.1" font-size="6.3" text-anchor="end">0</text>
<line x1="45.3" y1="541.5" x2="48.2" y2="541.5" stroke="#111" stroke-width="0.8"/>
<text id="Fay1" x="42.1" y="543.8" font-size="6.3" text-anchor="end">50</text>
<line x1="45.3" y1="524.2" x2="48.2" y2="524.2" stroke="#111" stroke-width="0.8"/>
<text id="Fay2" x="42.1" y="526.5" font-size="6.3" text-anchor="end">100</text>
<text id="Fay3" x="42.1" y="509.2" font-size="6.3" text-anchor="end">150</text>
<text id="Fby0" x="42.1" y="503.2" font-size="6.3" text-anchor="end">200</text>
<line x1="45.3" y1="488.6" x2="48.2" y2="488.6" stroke="#111" stroke-width="0.8"/>
<text id="Fby1" x="42.1" y="490.9" font-size="6.3" text-anchor="end">400</text>
<line x1="47.9" y1="558.9" x2="47.9" y2="561.3" stroke="#111" stroke-width="0.8"/>
<text id="Fx0" x="47.9" y="570.8" font-size="6.3" text-anchor="middle">0</text>
<line x1="61.18" y1="558.9" x2="61.18" y2="561.3" stroke="#111" stroke-width="0.8"/>
<text id="Fx1" x="61.18" y="570.8" font-size="6.3" text-anchor="middle">12</text>
<line x1="74.47" y1="558.9" x2="74.47" y2="561.3" stroke="#111" stroke-width="0.8"/>
<text id="Fx2" x="74.47" y="570.8" font-size="6.3" text-anchor="middle">24</text>
<line x1="87.75" y1="558.9" x2="87.75" y2="561.3" stroke="#111" stroke-width="0.8"/>
<text id="Fx3" x="87.75" y="570.8" font-size="6.3" text-anchor="middle">36</text>
<line x1="101.04" y1="558.9" x2="101.04" y2="561.3" stroke="#111" stroke-width="0.8"/>
<text id="Fx4" x="101.04" y="570.8" font-size="6.3" text-anchor="middle">48</text>
<line x1="114.32" y1="558.9" x2="114.32" y2="561.3" stroke="#111" stroke-width="0.8"/>
<text id="Fx5" x="114.32" y="570.8" font-size="6.3" text-anchor="middle">60</text>
<line x1="127.6" y1="558.9" x2="127.6" y2="561.3" stroke="#111" stroke-width="0.8"/>
<text id="Fx6" x="127.6" y="570.8" font-size="6.3" text-anchor="middle">72</text>
<line x1="140.89" y1="558.9" x2="140.89" y2="561.3" stroke="#111" stroke-width="0.8"/>
<text id="Fx7" x="140.89" y="570.8" font-size="6.3" text-anchor="middle">84</text>
<line x1="154.17" y1="558.9" x2="154.17" y2="561.3" stroke="#111" stroke-width="0.8"/>
<text id="Fx8" x="154.17" y="570.8" font-size="6.3" text-anchor="middle">96</text>
<text id="Fm" x="102.8" y="582.6" font-size="8.4" text-anchor="middle" textLength="47.3" lengthAdjust="spacingAndGlyphs">Months post GT</text>
<text id="Ft" x="102.8" y="480.3" font-size="8.6" text-anchor="middle" textLength="15.4" lengthAdjust="spacingAndGlyphs">IgM</text>
<text id="Fl" x="25.5" y="521.8" font-size="7.8" text-anchor="middle" textLength="38" lengthAdjust="spacingAndGlyphs" transform="rotate(-90 25.5 521.8)">IgM (mg/dL)</text>
<polyline points="47.9,542.4 61.18,554.89 74.47,546.69 87.75,495.8 114.32,499.3" fill="none" stroke="#4a2a64" stroke-width="0.7" stroke-linejoin="round"/>
<circle cx="47.9" cy="542.4" r="1.35" fill="#2c1240"/>
<circle cx="61.18" cy="554.89" r="1.35" fill="#2c1240"/>
<circle cx="74.47" cy="546.69" r="1.35" fill="#2c1240"/>
<circle cx="87.75" cy="495.8" r="1.35" fill="#2c1240"/>
<circle cx="114.32" cy="499.3" r="1.35" fill="#2c1240"/>
<polyline points="47.9,541.02 61.18,546.69 74.47,532.85 87.75,540.29 101.04,538.9 114.32,515.2 127.6,515.2 140.89,512.44" fill="none" stroke="#f5a23a" stroke-width="0.7" stroke-linejoin="round"/>
<circle cx="47.9" cy="541.02" r="1.35" fill="#d58b1f"/>
<circle cx="61.18" cy="546.69" r="1.35" fill="#d58b1f"/>
<circle cx="74.47" cy="532.85" r="1.35" fill="#d58b1f"/>
<circle cx="87.75" cy="540.29" r="1.35" fill="#d58b1f"/>
<circle cx="101.04" cy="538.9" r="1.35" fill="#d58b1f"/>
<circle cx="114.32" cy="515.2" r="1.35" fill="#d58b1f"/>
<circle cx="127.6" cy="515.2" r="1.35" fill="#d58b1f"/>
<circle cx="140.89" cy="512.44" r="1.35" fill="#d58b1f"/>
<polyline points="47.9,551.19 61.18,547.59 74.47,526.79 87.75,531.12 101.04,532.85 114.32,526.45 127.6,537.35" fill="none" stroke="#47ae42" stroke-width="0.7" stroke-linejoin="round"/>
<circle cx="47.9" cy="551.19" r="1.35" fill="#2e8a2c"/>
<circle cx="61.18" cy="547.59" r="1.35" fill="#2e8a2c"/>
<circle cx="74.47" cy="526.79" r="1.35" fill="#2e8a2c"/>
<circle cx="87.75" cy="531.12" r="1.35" fill="#2e8a2c"/>
<circle cx="101.04" cy="532.85" r="1.35" fill="#2e8a2c"/>
<circle cx="114.32" cy="526.45" r="1.35" fill="#2e8a2c"/>
<circle cx="127.6" cy="537.35" r="1.35" fill="#2e8a2c"/>
<polyline points="47.9,558.8 61.18,557.59 74.47,553.71 87.75,534.58 101.04,545.89 114.32,544.96 127.6,544.41 140.89,552.92 154.17,553.4" fill="none" stroke="#d22645" stroke-width="0.7" stroke-linejoin="round"/>
<circle cx="47.9" cy="558.8" r="1.35" fill="#a0102e"/>
<circle cx="61.18" cy="557.59" r="1.35" fill="#a0102e"/>
<circle cx="74.47" cy="553.71" r="1.35" fill="#a0102e"/>
<circle cx="87.75" cy="534.58" r="1.35" fill="#a0102e"/>
<circle cx="101.04" cy="545.89" r="1.35" fill="#a0102e"/>
<circle cx="114.32" cy="544.96" r="1.35" fill="#a0102e"/>
<circle cx="127.6" cy="544.41" r="1.35" fill="#a0102e"/>
<circle cx="140.89" cy="552.92" r="1.35" fill="#a0102e"/>
<circle cx="154.17" cy="553.4" r="1.35" fill="#a0102e"/>
<polyline points="47.9,558.8 61.18,533.4 74.47,538.59 87.75,531.12 101.04,532.85 114.32,536.31 127.6,542.71 140.89,542.88" fill="none" stroke="#2a5796" stroke-width="0.7" stroke-linejoin="round"/>
<circle cx="47.9" cy="558.8" r="1.35" fill="#143363"/>
<circle cx="61.18" cy="533.4" r="1.35" fill="#143363"/>
<circle cx="74.47" cy="538.59" r="1.35" fill="#143363"/>
<circle cx="87.75" cy="531.12" r="1.35" fill="#143363"/>
<circle cx="101.04" cy="532.85" r="1.35" fill="#143363"/>
<circle cx="114.32" cy="536.31" r="1.35" fill="#143363"/>
<circle cx="127.6" cy="542.71" r="1.35" fill="#143363"/>
<circle cx="140.89" cy="542.88" r="1.35" fill="#143363"/>
<text x="140.89" y="551.6" font-size="6" text-anchor="middle">*</text>
<text x="154.17" y="551.6" font-size="6" text-anchor="middle">*</text>
<line x1="171" y1="493.1" x2="178.5" y2="493.1" stroke="#2a5796" stroke-width="0.75"/>
<circle cx="174.75" cy="493.1" r="1.25" fill="#143363"/>
<text id="Fg0" x="181.5" y="495.6" font-size="6.6">Pt 1</text>
<line x1="171" y1="502.8" x2="178.5" y2="502.8" stroke="#d22645" stroke-width="0.75"/>
<circle cx="174.75" cy="502.8" r="1.25" fill="#a0102e"/>
<text id="Fg1" x="181.5" y="505.3" font-size="6.6">Pt 2</text>
<line x1="171" y1="512.6" x2="178.5" y2="512.6" stroke="#47ae42" stroke-width="0.75"/>
<circle cx="174.75" cy="512.6" r="1.25" fill="#2e8a2c"/>
<text id="Fg2" x="181.5" y="515.1" font-size="6.6">Pt 3</text>
<line x1="171" y1="522.4" x2="178.5" y2="522.4" stroke="#f5a23a" stroke-width="0.75"/>
<circle cx="174.75" cy="522.4" r="1.25" fill="#d58b1f"/>
<text id="Fg3" x="181.5" y="524.9" font-size="6.6">Pt 4</text>
<line x1="171" y1="532.2" x2="178.5" y2="532.2" stroke="#4a2a64" stroke-width="0.75"/>
<circle cx="174.75" cy="532.2" r="1.25" fill="#2c1240"/>
<text id="Fg4" x="181.5" y="534.7" font-size="6.6">Pt 5</text>
<text x="165.6" y="553.6" font-size="6.4">*</text>
<text id="Fv1" x="169.6" y="553.2" font-size="6.8" textLength="33" lengthAdjust="spacingAndGlyphs">values post</text>
<text id="Fv2" x="164.6" y="561" font-size="6.8" textLength="40" lengthAdjust="spacingAndGlyphs">chemotherapy</text>
<line x1="252.5" y1="483.4" x2="252.5" y2="564.2" stroke="#111" stroke-width="1"/>
<line x1="252" y1="563.7" x2="329.2" y2="563.7" stroke="#111" stroke-width="1"/>
<line x1="252.5" y1="529.46" x2="329" y2="529.46" stroke="#c8c8c8" stroke-width="0.6"/>
<line x1="249.6" y1="563.7" x2="252.5" y2="563.7" stroke="#111" stroke-width="0.8"/>
<text id="G1y0" x="246" y="566" font-size="6.3" text-anchor="end">0.5</text>
<line x1="249.6" y1="555.14" x2="252.5" y2="555.14" stroke="#111" stroke-width="0.8"/>
<text id="G1y1" x="246" y="557.44" font-size="6.3" text-anchor="end">1</text>
<line x1="249.6" y1="546.58" x2="252.5" y2="546.58" stroke="#111" stroke-width="0.8"/>
<text id="G1y2" x="246" y="548.88" font-size="6.3" text-anchor="end">2</text>
<line x1="249.6" y1="538.02" x2="252.5" y2="538.02" stroke="#111" stroke-width="0.8"/>
<text id="G1y3" x="246" y="540.32" font-size="6.3" text-anchor="end">4</text>
<line x1="249.6" y1="529.46" x2="252.5" y2="529.46" stroke="#111" stroke-width="0.8"/>
<text id="G1y4" x="246" y="531.76" font-size="6.3" text-anchor="end">8</text>
<line x1="249.6" y1="520.9" x2="252.5" y2="520.9" stroke="#111" stroke-width="0.8"/>
<text id="G1y5" x="246" y="523.2" font-size="6.3" text-anchor="end">16</text>
<line x1="249.6" y1="512.34" x2="252.5" y2="512.34" stroke="#111" stroke-width="0.8"/>
<text id="G1y6" x="246" y="514.64" font-size="6.3" text-anchor="end">32</text>
<line x1="249.6" y1="503.78" x2="252.5" y2="503.78" stroke="#111" stroke-width="0.8"/>
<text id="G1y7" x="246" y="506.08" font-size="6.3" text-anchor="end">64</text>
<line x1="249.6" y1="495.22" x2="252.5" y2="495.22" stroke="#111" stroke-width="0.8"/>
<text id="G1y8" x="246" y="497.52" font-size="6.3" text-anchor="end">128</text>
<line x1="249.6" y1="486.66" x2="252.5" y2="486.66" stroke="#111" stroke-width="0.8"/>
<text id="G1y9" x="246" y="488.96" font-size="6.3" text-anchor="end">256</text>
<line x1="271.5" y1="563.7" x2="271.5" y2="566.1" stroke="#111" stroke-width="0.8"/>
<line x1="310.2" y1="563.7" x2="310.2" y2="566.1" stroke="#111" stroke-width="0.8"/>
<text id="G1p" x="271.6" y="575.8" font-size="6.8" text-anchor="middle" textLength="22.1" lengthAdjust="spacingAndGlyphs">PRE GT</text>
<text id="G1q" x="310.2" y="575.8" font-size="6.8" text-anchor="middle" textLength="27" lengthAdjust="spacingAndGlyphs">POST GT</text>
<text id="G1r" x="310.4" y="583.2" font-size="6.8" text-anchor="middle" textLength="16.8" lengthAdjust="spacingAndGlyphs">(4-5Y)</text>
<text id="G1t1" x="291.3" y="468" font-size="8.4" text-anchor="middle" textLength="68" lengthAdjust="spacingAndGlyphs">Isohemagglutinin</text>
<text id="G1t2" x="291.3" y="477.8" font-size="8.4" text-anchor="middle" textLength="46.2" lengthAdjust="spacingAndGlyphs">anti-A (IgM)</text>
<text id="G1l" x="232.2" y="524.3" font-size="9.4" text-anchor="middle" textLength="44.6" lengthAdjust="spacingAndGlyphs" transform="rotate(-90 232.2 524.3)">Dilution factor</text>
<polyline points="271.5,546.58 310.2,520.9" fill="none" stroke="#f5a23a" stroke-width="0.7" stroke-linejoin="round"/>
<circle cx="271.5" cy="546.58" r="1.35" fill="#d58b1f"/>
<circle cx="310.2" cy="520.9" r="1.35" fill="#d58b1f"/>
<polyline points="271.5,555.14 310.2,486.66" fill="none" stroke="#47ae42" stroke-width="0.7" stroke-linejoin="round"/>
<circle cx="271.5" cy="555.14" r="1.35" fill="#2e8a2c"/>
<circle cx="310.2" cy="486.66" r="1.35" fill="#2e8a2c"/>
<polyline points="271.5,546.58 310.2,495.22" fill="none" stroke="#d22645" stroke-width="0.7" stroke-linejoin="round"/>
<circle cx="271.5" cy="546.58" r="1.35" fill="#a0102e"/>
<circle cx="310.2" cy="495.22" r="1.35" fill="#a0102e"/>
<polyline points="271.5,546.58 310.2,512.34" fill="none" stroke="#2a5796" stroke-width="0.7" stroke-linejoin="round"/>
<circle cx="271.5" cy="546.58" r="1.35" fill="#143363"/>
<circle cx="310.2" cy="512.34" r="1.35" fill="#143363"/>
<line x1="332.7" y1="492.9" x2="340.5" y2="492.9" stroke="#2a5796" stroke-width="0.75"/>
<circle cx="336.6" cy="492.9" r="1.25" fill="#143363"/>
<text id="G1g0" x="343.7" y="495.4" font-size="6.6">Pt 1</text>
<line x1="332.7" y1="502.8" x2="340.5" y2="502.8" stroke="#d22645" stroke-width="0.75"/>
<circle cx="336.6" cy="502.8" r="1.25" fill="#a0102e"/>
<text id="G1g1" x="343.7" y="505.3" font-size="6.6">Pt 2</text>
<line x1="332.7" y1="512.9" x2="340.5" y2="512.9" stroke="#47ae42" stroke-width="0.75"/>
<circle cx="336.6" cy="512.9" r="1.25" fill="#2e8a2c"/>
<text id="G1g2" x="343.7" y="515.4" font-size="6.6">Pt 3</text>
<line x1="332.7" y1="522.7" x2="340.5" y2="522.7" stroke="#f5a23a" stroke-width="0.75"/>
<circle cx="336.6" cy="522.7" r="1.25" fill="#d58b1f"/>
<text id="G1g3" x="343.7" y="525.2" font-size="6.6">Pt 4</text>
<line x1="403.7" y1="483.8" x2="403.7" y2="564.2" stroke="#111" stroke-width="1"/>
<line x1="403.2" y1="563.7" x2="481.7" y2="563.7" stroke="#111" stroke-width="1"/>
<line x1="403.7" y1="518.6" x2="480.8" y2="518.6" stroke="#c8c8c8" stroke-width="0.6"/>
<line x1="400.8" y1="563.8" x2="403.7" y2="563.8" stroke="#111" stroke-width="0.8"/>
<text id="G2y0" x="397.5" y="566.1" font-size="6.3" text-anchor="end">0.5</text>
<line x1="400.8" y1="552.5" x2="403.7" y2="552.5" stroke="#111" stroke-width="0.8"/>
<text id="G2y1" x="397.5" y="554.8" font-size="6.3" text-anchor="end">1</text>
<line x1="400.8" y1="541.2" x2="403.7" y2="541.2" stroke="#111" stroke-width="0.8"/>
<text id="G2y2" x="397.5" y="543.5" font-size="6.3" text-anchor="end">2</text>
<line x1="400.8" y1="529.9" x2="403.7" y2="529.9" stroke="#111" stroke-width="0.8"/>
<text id="G2y3" x="397.5" y="532.2" font-size="6.3" text-anchor="end">4</text>
<line x1="400.8" y1="518.6" x2="403.7" y2="518.6" stroke="#111" stroke-width="0.8"/>
<text id="G2y4" x="397.5" y="520.9" font-size="6.3" text-anchor="end">8</text>
<line x1="400.8" y1="507.3" x2="403.7" y2="507.3" stroke="#111" stroke-width="0.8"/>
<text id="G2y5" x="397.5" y="509.6" font-size="6.3" text-anchor="end">16</text>
<line x1="400.8" y1="496" x2="403.7" y2="496" stroke="#111" stroke-width="0.8"/>
<text id="G2y6" x="397.5" y="498.3" font-size="6.3" text-anchor="end">32</text>
<line x1="400.8" y1="484.7" x2="403.7" y2="484.7" stroke="#111" stroke-width="0.8"/>
<text id="G2y7" x="397.5" y="487" font-size="6.3" text-anchor="end">64</text>
<line x1="423" y1="563.7" x2="423" y2="566.1" stroke="#111" stroke-width="0.8"/>
<line x1="461.9" y1="563.7" x2="461.9" y2="566.1" stroke="#111" stroke-width="0.8"/>
<text id="G2p" x="422.9" y="575.8" font-size="6.8" text-anchor="middle" textLength="22.4" lengthAdjust="spacingAndGlyphs">PRE GT</text>
<text id="G2q" x="461.7" y="575.8" font-size="6.8" text-anchor="middle" textLength="27.4" lengthAdjust="spacingAndGlyphs">POST GT</text>
<text id="G2r" x="461.6" y="583.2" font-size="6.8" text-anchor="middle" textLength="17.3" lengthAdjust="spacingAndGlyphs">(4-5Y)</text>
<text id="G2t1" x="442.5" y="467.6" font-size="8.4" text-anchor="middle" textLength="67.5" lengthAdjust="spacingAndGlyphs">Isohemagglutinin</text>
<text id="G2l2" x="442.6" y="477.4" font-size="8.4" text-anchor="middle" textLength="45.5" lengthAdjust="spacingAndGlyphs">anti-B (IgM)</text>
<text id="G2l" x="384.4" y="523.9" font-size="9.4" text-anchor="middle" textLength="43.3" lengthAdjust="spacingAndGlyphs" transform="rotate(-90 384.4 523.9)">Dilution factor</text>
<polyline points="423,552.5 461.9,518.6" fill="none" stroke="#f5a23a" stroke-width="0.7" stroke-linejoin="round"/>
<circle cx="423" cy="552.5" r="1.35" fill="#d58b1f"/>
<circle cx="461.9" cy="518.6" r="1.35" fill="#d58b1f"/>
<polyline points="423,552.5 461.9,507.3" fill="none" stroke="#47ae42" stroke-width="0.7" stroke-linejoin="round"/>
<circle cx="423" cy="552.5" r="1.35" fill="#2e8a2c"/>
<circle cx="461.9" cy="507.3" r="1.35" fill="#2e8a2c"/>
<polyline points="423,541.2 461.9,496" fill="none" stroke="#d22645" stroke-width="0.7" stroke-linejoin="round"/>
<circle cx="423" cy="541.2" r="1.35" fill="#a0102e"/>
<circle cx="461.9" cy="496" r="1.35" fill="#a0102e"/>
<polyline points="423,541.2 461.9,507.3" fill="none" stroke="#2a5796" stroke-width="0.7" stroke-linejoin="round"/>
<circle cx="423" cy="541.2" r="1.35" fill="#143363"/>
<circle cx="461.9" cy="507.3" r="1.35" fill="#143363"/>
<line x1="484.2" y1="492.9" x2="492.3" y2="492.9" stroke="#2a5796" stroke-width="0.75"/>
<circle cx="488.25" cy="492.9" r="1.25" fill="#143363"/>
<text id="G2g0" x="495.2" y="495.4" font-size="6.6">Pt 1</text>
<line x1="484.2" y1="502.8" x2="492.3" y2="502.8" stroke="#d22645" stroke-width="0.75"/>
<circle cx="488.25" cy="502.8" r="1.25" fill="#a0102e"/>
<text id="G2g1" x="495.2" y="505.3" font-size="6.6">Pt 2</text>
<line x1="484.2" y1="512.9" x2="492.3" y2="512.9" stroke="#47ae42" stroke-width="0.75"/>
<circle cx="488.25" cy="512.9" r="1.25" fill="#2e8a2c"/>
<text id="G2g2" x="495.2" y="515.4" font-size="6.6">Pt 3</text>
<line x1="484.2" y1="522.7" x2="492.3" y2="522.7" stroke="#f5a23a" stroke-width="0.75"/>
<circle cx="488.25" cy="522.7" r="1.25" fill="#d58b1f"/>
<text id="G2g3" x="495.2" y="525.2" font-size="6.6">Pt 4</text>
<rect x="0.5" y="0.5" width="519" height="591" fill="none" stroke="#595959" stroke-width="1"/>
</svg>
</body></html>
